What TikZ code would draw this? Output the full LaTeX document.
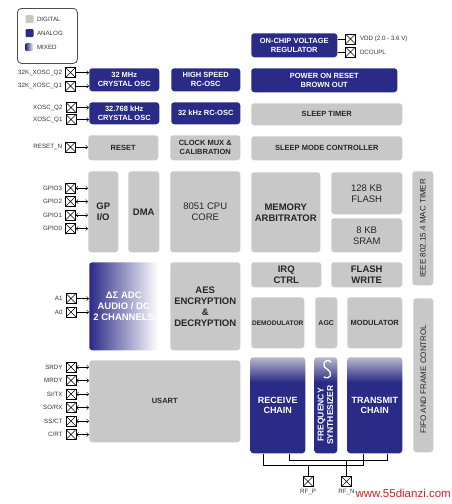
\documentclass[tikz,border=0pt]{standalone}
\usepackage{fontspec}
\setmainfont{Liberation Sans}
\usetikzlibrary{positioning, arrows.meta}
\definecolor{digital}{RGB}{200,200,200}
\definecolor{analog}{RGB}{42,42,135}
\definecolor{mixtop}{RGB}{185,185,205}
\definecolor{wmred}{RGB}{210,30,30}
\pgfdeclareverticalshading{chainshade}{100bp}{color(0bp)=(analog); color(62bp)=(analog); color(75bp)=(mixtop); color(100bp)=(mixtop)}

\begin{document}
\begin{tikzpicture}[x=1pt, y=-1pt, line width=0.5pt,
    >={Straight Barb[length=2pt, width=4pt]},
    blk/.style={anchor=north west, rounded corners=3pt, inner sep=0pt, align=center,
        font=\bfseries\fontsize{7.5}{8.7}\selectfont},
    digi/.style={blk, fill=digital, text=black!85},
    anlg/.style={blk, fill=analog, text=white},
    chain/.style={blk, shading=chainshade, text=white},
    big/.style={font=\bfseries\fontsize{9.5}{11}\selectfont},
    bigrm/.style={font=\fontsize{9.5}{11}\selectfont},
    vtext/.style={rotate=90, font=\fontsize{8}{9}\selectfont, text=black!85},
    iopad/.style={draw, fill=white, minimum size=10pt, inner sep=0pt,
        path picture={\draw (path picture bounding box.south west) -- (path picture bounding box.north east)
            (path picture bounding box.north west) -- (path picture bounding box.south east);}},
    padlbl/.style={inner sep=0pt, font=\fontsize{6.2}{7}\selectfont, text=black!80}]
    \useasboundingbox (0,0) rectangle (452,504);

    % Legenda
    \node[draw=black!70, line width=0.8pt, rounded corners=4pt, anchor=north west,
        minimum width=60, minimum height=55] (legend) at (17,8) {};
    \node[fill=digital, rounded corners=1pt, minimum size=8pt, inner sep=0pt] (kdig) at (29.5,19) {};
    \node[fill=analog, rounded corners=1pt, minimum size=8pt, inner sep=0pt] (kana) at (29.5,33) {};
    \node[left color=analog, right color=white, rounded corners=1pt, minimum size=8pt, inner sep=0pt] (kmix) at (29.5,47) {};
    \node[padlbl, right=3pt of kdig] (ldig) {DIGITAL};
    \node[padlbl, right=3pt of kana] (lana) {ANALOG};
    \node[padlbl, right=3pt of kmix] (lmix) {MIXED};

    % Osciladores e alimentacao
    \node[anlg, minimum width=70, minimum height=23] (osc32m) at (89,68) {32 MHz\\CRYSTAL OSC};
    \node[anlg, minimum width=69, minimum height=23] (hsrc) at (171,68) {HIGH SPEED\\RC-OSC};
    \node[anlg, minimum width=70, minimum height=22] (osc32k) at (89,102) {32.768 kHz\\CRYSTAL OSC};
    \node[anlg, minimum width=69, minimum height=22] (rc32k) at (171,102) {32 kHz RC-OSC};
    \node[anlg, minimum width=86, minimum height=24] (vreg) at (251,33) {ON-CHIP VOLTAGE\\REGULATOR};
    \node[anlg, minimum width=146, minimum height=24] (por) at (251,68) {POWER ON RESET\\BROWN OUT};
    \node[digi, minimum width=151, minimum height=22] (sleept) at (251,103) {SLEEP TIMER};
    \node[digi, minimum width=70, minimum height=25] (reset) at (88,135) {RESET};
    \node[digi, minimum width=70, minimum height=25] (clkmux) at (170,135) {CLOCK MUX \&\\CALIBRATION};
    \node[digi, minimum width=151, minimum height=24] (smc) at (251,136) {SLEEP MODE CONTROLLER};

    % Nucleo digital
    \node[digi, big, minimum width=30, minimum height=81] (gpio) at (88,171) {GP\\I/O};
    \node[digi, big, minimum width=31, minimum height=81] (dma) at (128,171) {DMA};
    \node[digi, bigrm, minimum width=70, minimum height=81] (cpu) at (170,171) {8051 CPU\\CORE};
    \node[digi, big, minimum width=69, minimum height=80] (memarb) at (251,172) {MEMORY\\ARBITRATOR};
    \node[digi, bigrm, minimum width=71, minimum height=42] (flash) at (331,172) {128 KB\\FLASH};
    \node[digi, bigrm, minimum width=71, minimum height=34] (sram) at (331,218) {8 KB\\SRAM};
    \node[digi, minimum width=21, minimum height=114] (ieee) at (412,171) {};
    \node[vtext] (ieeetxt) at (ieee.center) {IEEE 802.15.4 MAC TIMER};
    \node[blk, big, left color=analog, right color=white, text=white, minimum width=69, minimum height=88] (adc) at (89,262) {ΔΣ ADC\\AUDIO / DC\\2 CHANNELS};
    \node[digi, big, minimum width=70, minimum height=88] (aes) at (170,262) {AES\\ENCRYPTION\\\&\\DECRYPTION};
    \node[digi, big, minimum width=70, minimum height=25] (irq) at (251,262) {IRQ\\CTRL};
    \node[digi, big, minimum width=71, minimum height=25] (fwrite) at (331,262) {FLASH\\WRITE};
    \node[digi, font=\bfseries\fontsize{6.6}{8}\selectfont, minimum width=53, minimum height=51] (demod) at (251,297) {DEMODULATOR};
    \node[digi, font=\bfseries\fontsize{7}{8}\selectfont, minimum width=22, minimum height=51] (agc) at (315,297) {AGC};
    \node[digi, minimum width=55, minimum height=51] (mod) at (347,297) {MODULATOR};
    \node[digi, minimum width=20, minimum height=154] (fifo) at (413,298) {};
    \node[vtext] (fifotxt) at ([yshift=-4]fifo.center) {FIFO AND FRAME CONTROL};
    \node[digi, minimum width=151, minimum height=82] (usart) at (89,360) {USART};

    % Radio
    \node[chain, font=\bfseries\fontsize{9}{10.5}\selectfont, minimum width=55, minimum height=96] (recv) at (250,357) {RECEIVE\\CHAIN};
    \node[chain, minimum width=23, minimum height=96] (synth) at (314,357) {};
    \node[chain, font=\bfseries\fontsize{9}{10.5}\selectfont, minimum width=55, minimum height=96] (trans) at (347,357) {TRANSMIT\\CHAIN};
    \node[rotate=90, align=center, text=white, font=\bfseries\fontsize{8.5}{9.5}\selectfont] (synthtxt) at (325.5,415) {FREQUENCY\\SYNTHESIZER};
    \draw[white, line width=1.3pt, line cap=round] (331,362) .. controls (326,357) and (320,365) .. (327,369)
        .. controls (333,373) and (331,380) .. (324,377);

    % Pinos de clock
    \node[iopad] (xq2) at (70.5,72.5) {};
    \node[iopad] (xq1) at (70.5,86) {};
    \node[iopad] (oq2) at (71,107.5) {};
    \node[iopad] (oq1) at (71,119.5) {};
    \node[padlbl, left=3pt of xq2] (lxq2) {32K\_XOSC\_Q2};
    \node[padlbl, left=3pt of xq1] (lxq1) {32K\_XOSC\_Q1};
    \node[padlbl, left=3pt of oq2] (loq2) {XOSC\_Q2};
    \node[padlbl, left=3pt of oq1] (loq1) {XOSC\_Q1};
    \draw[->] (xq2.east) -- (xq2.east -| osc32m.west);
    \draw[->] (xq1.east) -- (xq1.east -| osc32m.west);
    \draw[->] (oq2.east) -- (oq2.east -| osc32k.west);
    \draw[->] (oq1.east) -- (oq1.east -| osc32k.west);

    % Alimentacao
    \node[iopad] (vdd) at (350.5,39) {};
    \node[iopad] (dcoupl) at (350.5,52) {};
    \node[padlbl, right=4pt of vdd] (lvdd) {VDD (2.0 - 3.6 V)};
    \node[padlbl, right=4pt of dcoupl] (ldcoupl) {DCOUPL};
    \draw (vdd.west -| vreg.east) -- (vdd.west);
    \draw (dcoupl.west -| vreg.east) -- (dcoupl.west);

    % Reset
    \node[iopad] (rstn) at (70.5,147) {};
    \node[padlbl, left=3pt of rstn] (lrstn) {RESET\_N};
    \draw[->] (rstn.east) -- (rstn.east -| reset.west);

    % GPIO
    \node[iopad] (g3) at (70.5,188) {};
    \node[iopad] (g2) at (70.5,201.5) {};
    \node[iopad] (g1) at (70.5,215) {};
    \node[iopad] (g0) at (70.5,228.5) {};
    \node[padlbl, left=3pt of g3] (lg3) {GPIO3};
    \node[padlbl, left=3pt of g2] (lg2) {GPIO2};
    \node[padlbl, left=3pt of g1] (lg1) {GPIO1};
    \node[padlbl, left=3pt of g0] (lg0) {GPIO0};
    \draw[<->] (g3.east) -- (g3.east -| gpio.west);
    \draw[<->] (g2.east) -- (g2.east -| gpio.west);
    \draw[<->] (g1.east) -- (g1.east -| gpio.west);
    \draw[<->] (g0.east) -- (g0.east -| gpio.west);

    % Entradas analogicas
    \node[iopad] (a1) at (71,298.5) {};
    \node[iopad] (a0) at (71,312) {};
    \node[padlbl, left=3pt of a1] (la1) {A1};
    \node[padlbl, left=3pt of a0] (la0) {A0};
    \draw[->] (a1.east) -- (a1.east -| adc.west);
    \draw[->] (a0.east) -- (a0.east -| adc.west);

    % USART
    \node[iopad] (srdy) at (71,367) {};
    \node[iopad] (mrdy) at (71,380.5) {};
    \node[iopad] (sitx) at (71,394) {};
    \node[iopad] (sorx) at (71,407.5) {};
    \node[iopad] (ssct) at (71,421) {};
    \node[iopad] (crt) at (71,434.5) {};
    \node[padlbl, left=3pt of srdy] (lsrdy) {SRDY};
    \node[padlbl, left=3pt of mrdy] (lmrdy) {MRDY};
    \node[padlbl, left=3pt of sitx] (lsitx) {SI/TX};
    \node[padlbl, left=3pt of sorx] (lsorx) {SO/RX};
    \node[padlbl, left=3pt of ssct] (lssct) {SS/CT};
    \node[padlbl, left=3pt of crt] (lcrt) {C/RT};
    \draw[<->] (srdy.east) -- (srdy.east -| usart.west);
    \draw[<->] (mrdy.east) -- (mrdy.east -| usart.west);
    \draw[<->] (sitx.east) -- (sitx.east -| usart.west);
    \draw[<->] (sorx.east) -- (sorx.east -| usart.west);
    \draw[<->] (ssct.east) -- (ssct.east -| usart.west);
    \draw[<->] (crt.east) -- (crt.east -| usart.west);

    % Antena
    \node[iopad] (rfp) at (308,481.5) {};
    \node[iopad] (rfn) at (346.5,481.5) {};
    \node[padlbl, below=2pt of rfp] (lrfp) {RF\_P};
    \node[padlbl, below=2pt of rfn] (lrfn) {RF\_N};
    \coordinate (busp) at (308,465);
    \coordinate (busn) at (346.5,460);
    \draw ([xshift=13]recv.south west) -- ++(0,12) -| ([xshift=16]trans.south west);
    \draw ([xshift=39]recv.south west) -- ++(0,7) -| ([xshift=40]trans.south west);
    \draw (rfp.north) -- (busp);
    \draw (rfn.north) -- (busn);

    % Marca
    \node[text=wmred, inner sep=0pt, anchor=east, font=\fontsize{11.5}{12}\selectfont] (wmark) at (451,493) {www.55dianzi.com};
\end{tikzpicture}
\end{document}
